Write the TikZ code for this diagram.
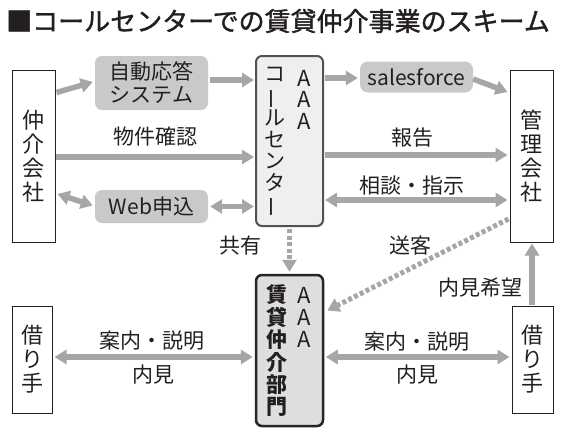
\documentclass[tikz,border=0pt]{standalone}
\usepackage{fontspec}
\setmainfont{Noto Sans CJK JP}
\newfontfamily\titlefont[FakeBold=1.4]{Noto Sans CJK JP}
\usetikzlibrary{arrows.meta,calc}
\definecolor{ag}{HTML}{A6A6A6}
\definecolor{bg}{HTML}{C9C9C9}
\definecolor{ccfill}{HTML}{EFEFEF}
\definecolor{bbfill}{HTML}{DEDEDE}
\definecolor{tx}{HTML}{231F20}
\newcommand{\vbarchar}{\rotatebox[origin=c]{90}{ー}}
\begin{document}
\begin{tikzpicture}[x=1pt,y=-1pt,
  lbl/.style={font=\fontsize{21}{24}\selectfont, text=tx, inner sep=0pt},
  vtext/.style={font=\fontsize{21}{21.5}\selectfont, text=tx, inner sep=0pt, align=center},
  wbox/.style={draw=tx, line width=1pt, fill=white, inner sep=0pt, align=center,
    font=\fontsize{22}{24}\selectfont, text=tx},
  gbox/.style={fill=bg, rounded corners=7pt, minimum width=113pt, inner sep=0pt,
    align=center, font=\fontsize{21}{23}\selectfont, text=tx},
  arr/.style={draw=ag, line width=5.5pt, -{Triangle[length=12pt,width=14pt]}},
  darr/.style={draw=ag, line width=5.5pt, {Triangle[length=12pt,width=14pt]}-{Triangle[length=12pt,width=14pt]}},
  dotarr/.style={draw=ag, line width=5pt, dash pattern=on 4pt off 2.5pt, -{Triangle[length=12pt,width=14pt]}}
]
\useasboundingbox (0,0) rectangle (565,439);

% title
\node[anchor=west, inner sep=0pt, text=tx, font=\titlefont\fontsize{26}{30}\selectfont] (title) at (6,21) {■コールセンターでの賃貸仲介事業のスキーム};

% outer boxes
\node[wbox, minimum width=43pt, minimum height=172pt] (jk) at (33.5,156) {仲\\介\\会\\社};
\node[wbox, minimum width=43pt, minimum height=172pt] (kanri) at (531.5,156) {管\\理\\会\\社};
\node[wbox, minimum width=40pt, minimum height=107pt] (kl) at (32,359.5) {借\\り\\手};
\node[wbox, minimum width=41pt, minimum height=107pt] (kr) at (532.5,359.5) {借\\り\\手};

% gray boxes
\node[gbox, minimum height=54pt] (auto) at (151.5,83) {自動応答\\システム};
\node[gbox, minimum height=33pt] (web) at (151.5,206.5) {Web申込};
\node[gbox, minimum height=31pt, rounded corners=8pt] (sf) at (416.5,77) {salesforce};

% call center
\node[draw=black!68, line width=2pt, fill=ccfill, rounded corners=6pt,
  minimum width=67pt, minimum height=170pt, inner sep=0pt] (cc) at (289.5,141) {};
\node[vtext] (cck) at (275,142.5) {コ\\\vbarchar\\ル\\セ\\ン\\タ\\\vbarchar};
\node[vtext, font=\fontsize{22}{21.5}\selectfont] (cca) at (304,99.5) {A\\A\\A};

% rental brokerage division
\node[draw=black!85, line width=2.5pt, fill=bbfill, rounded corners=6pt,
  minimum width=67pt, minimum height=151pt, inner sep=0pt] (bu) at (289.5,350.5) {};
\node[vtext, font=\bfseries\fontsize{21}{22.4}\selectfont] (buk) at (277,351) {賃\\貸\\仲\\介\\部\\門};
\node[vtext, font=\fontsize{22}{22.4}\selectfont] (bua) at (304,317.5) {A\\A\\A};

% connectors
\draw[arr] ($(jk.north east)+(1,23)$) -- ($(auto.west)+(-2,-1)$);
\draw[arr] ($(auto.east)+(2,-3)$) -- ($(cc.west)+(-1,-61)$);
\draw[arr] ($(jk.east)+(0,1)$) -- ($(cc.west)+(-1,16)$);
\node[lbl] (l1) at (155,137) {物件確認};
\draw[darr] ($(jk.east)+(2,38)$) -- ($(web.west)+(-2,-1)$);
\draw[darr] ($(web.east)+(2,0)$) -- ($(cc.west)+(-1,65.5)$);

\draw[arr] ($(cc.east)+(1,-63)$) -- ($(sf.west)+(-2,1)$);
\draw[arr] ($(sf.east)+(0,2)$) -- ($(kanri.west)+(-2,-64)$);
\draw[arr] ($(cc.east)+(1,14)$) -- ($(kanri.west)+(-2,-1)$);
\node[lbl] (l2) at (412,138) {報告};
\draw[darr] ($(cc.east)+(1,59)$) -- ($(kanri.west)+(-2,44)$);
\node[lbl] (l3) at (412,186) {相談・指示};

\draw[dotarr] ($(cc.south)+(0,2)$) -- ($(bu.north)+(0,-2)$);
\node[lbl] (l4) at (240,246) {共有};
\draw[dotarr] ($(kanri.west)+(-1,63)$) -- ($(bu.east)+(3,-40)$);
\node[lbl] (l5) at (410,246) {送客};
\draw[arr] ($(kr.north)+(-0.5,-1)$) -- ($(kanri.south)+(0.5,1)$);
\node[lbl] (l6) at (480,288) {内見希望};

\draw[darr] ($(kl.east)+(2,-2.5)$) -- ($(bu.west)+(-2,6.5)$);
\node[lbl] (l7) at (152,341) {案内・説明};
\node[lbl] (l8) at (153,375) {内見};
\draw[darr] ($(bu.east)+(1.5,6.5)$) -- ($(kr.west)+(-2,-2.5)$);
\node[lbl] (l9) at (417,342) {案内・説明};
\node[lbl] (l10) at (417,375) {内見};
\end{tikzpicture}
\end{document}
